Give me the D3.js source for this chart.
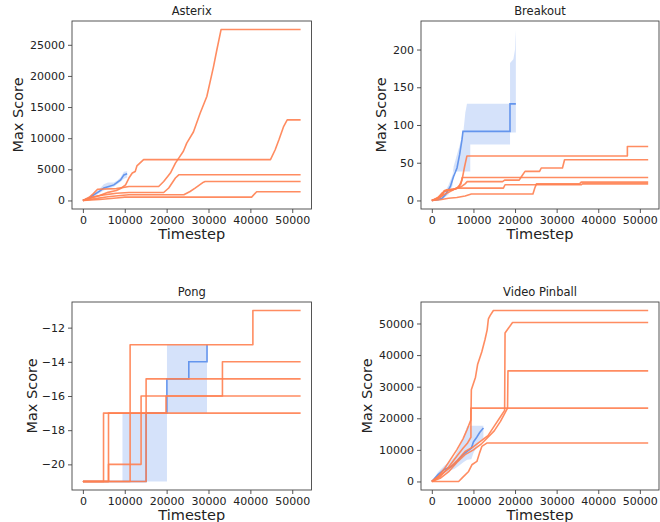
<!DOCTYPE html>
<html><head><meta charset="utf-8">
<script src="https://cdn.jsdelivr.net/npm/d3@7"></script>
<style>
body{margin:0;background:#fff;}
svg{display:block;font-family:"DejaVu Sans",sans-serif;}
</style></head>
<body><svg id="c" width="660" height="522"></svg>
<script>
// ---------------- DATA ----------------
const xTicks = [0,10000,20000,30000,40000,50000];
const xMax = 52000;

// Asterix
const asterixBlueT  = [0,1500,2600,4000,5000,6000,7400,8200,9000,9800,10570];
const asterixBlueY  = [0,400,900,1500,2000,2200,2500,2900,3300,4100,4290];
const asterixBandLo = [0,250,650,1200,1600,1900,2200,2600,3000,3500,3700];
const asterixBandHi = [0,550,1200,1900,2600,2900,2900,3200,3700,4600,4700];
const asterixRuns = [
  [[0,0],[1500,500],[2500,1100],[3500,1800],[8000,1900],[11000,2250],[18100,2250],[19300,3050],[20900,4400],[22100,6000],[22900,6800],[24000,7900],[24800,9200],[26400,11000],[28000,14000],[29600,16700],[31200,21500],[32000,24200],[33000,27450],[52000,27450]],
  [[0,0],[2000,400],[4000,800],[6000,1300],[8000,1600],[9000,1900],[10200,2500],[11000,3600],[11800,4400],[12500,4650],[12900,5550],[14500,6550],[44800,6550],[45900,8100],[46800,9700],[47900,11800],[48800,12950],[52000,12950]],
  [[0,0],[2500,600],[5000,900],[8000,1150],[11000,1280],[19300,1280],[20500,2000],[21500,3000],[22100,3600],[22900,4120],[52000,4120]],
  [[0,0],[3000,300],[6000,600],[9000,800],[11000,910],[24100,910],[25600,1440],[26800,1980],[28800,2940],[29200,3050],[52000,3050]],
  [[0,0],[4000,150],[8000,400],[10000,540],[40300,540],[41500,1400],[52000,1400]]
];
const asterixYTicks = [0,5000,10000,15000,20000,25000];

// Breakout
const breakoutBlueT = [0,1500,2500,3300,4460,5250,6050,6680,7250,7490,18790,18790,20200];
const breakoutBlueY = [0,1,3,8,18.6,32,43,60.6,80.6,91.6,91.6,128,128];
const breakoutBandT  = [0,2500,4000,5000,5250,6000,6850,7640,8040,8450,9240,9240,18800,18800,19600,20000,20100,20200];
const breakoutBandLo = [0,1,8,20,38.5,38.5,38.5,38.5,38.5,38.5,38.5,74,74,90,90,90,90,90];
const breakoutBandHi = [0,5,20,34,45,60,76,94,116,128,128,128,128,182,187,200,215,226];
const breakoutRuns = [
  [[0,0],[1500,3],[3000,8],[4500,12],[5500,15],[6500,18],[7250,27],[7880,45],[8440,59],[47000,59],[47000,71.5],[52000,71.5]],
  [[0,0],[1500,4],[2500,10],[3500,14],[5500,15],[7000,18],[8000,22],[8500,25],[17000,25],[17500,27],[21000,27],[21600,32],[22400,38.5],[25900,38.5],[26300,43],[31400,43],[31900,54],[52000,54]],
  [[0,0],[1000,2],[2000,6],[3000,12],[4500,14],[6000,16],[7000,22],[7300,30.5],[52000,30.5]],
  [[0,0],[1500,2],[2500,6],[3000,13],[5000,14],[6000,16.4],[17200,16.4],[17600,20.8],[35900,20.8],[36200,22],[52000,22]],
  [[0,0],[2000,1],[4000,3],[6000,4],[8000,6],[9500,8.5],[24300,8.5],[24750,16.4],[25150,22],[35500,22],[35900,24.3],[52000,24.3]]
];
const breakoutYTicks = [0,50,100,150,200];

// Pong (step functions)
const pongBlueT  = [0,15100,20060,25300,29650,29650];
const pongBlueY  = [-21,-17,-15,-14,-13,-13];
const pongBandT  = [0,9450,20080,29650];
const pongBandLo = [-21,-21,-17,-17];
const pongBandHi = [-21,-17,-13,-13];
const pongRuns = [
  [[0,-21],[4930,-17],[52000,-17]],
  [[0,-21],[6120,-17],[19850,-16],[52000,-16]],
  [[0,-21],[6120,-20],[13900,-16],[33330,-14],[52000,-14]],
  [[0,-21],[11280,-13],[40600,-11],[52000,-11]],
  [[0,-21],[15100,-15],[52000,-15]]
];
const pongYTicks = [-20,-18,-16,-14,-12];

// Video Pinball
const pinballBlueT  = [0,1500,3000,4500,5500,6500,7500,8500,9500,10000,10800,11500,12400];
const pinballBlueY  = [0,2200,3800,4600,5500,7000,8500,9500,10500,12500,14000,15500,16900];
const pinballBandLo = [0,1000,2500,3500,4000,5000,6000,6900,7000,9000,11000,12500,13500];
const pinballBandHi = [0,3000,5000,6500,8000,10500,13500,17500,17600,17600,17600,17600,17600];
const pinballRuns = [
  [[0,0],[1500,1500],[3000,4000],[4500,7000],[6000,10000],[7500,13500],[8500,16500],[9400,19500],[9500,29000],[10500,33000],[11000,37000],[12000,41000],[12800,45000],[13300,48000],[13600,51500],[14000,52500],[14800,54100],[52000,54100]],
  [[0,0],[2000,2000],[4000,4000],[6000,6500],[8000,9500],[10000,11000],[12000,13000],[13500,14500],[15000,17500],[16500,20500],[17500,22500],[17600,47000],[18400,48500],[19400,50300],[52000,50300]],
  [[0,0],[2000,1000],[4000,3000],[6000,6000],[8000,8500],[10000,10000],[12000,12000],[13500,14000],[15000,16000],[16500,19000],[17500,21500],[18200,23200],[18300,35000],[52000,35000]],
  [[0,0],[2000,1500],[4000,4500],[6000,8000],[7500,10500],[8500,12000],[9400,14000],[9400,23200],[52000,23200]],
  [[0,0],[6450,0],[7240,1050],[8840,3170],[9630,5280],[10830,6330],[11460,8970],[12020,11080],[13210,12150],[52000,12150]]
];
const pinballYTicks = [0,10000,20000,30000,40000,50000];

// ---------------- DRAW ----------------
const svg = d3.select("#c");
const ORANGE = "#ff7f50", BLUE = "#6495ed";

function panel(o){
  const {title,x0,x1,y0,y1,yMin,yMax,yTicks,blueT,blueY,bandT,bandLo,bandHi,runs,step} = o;
  const pad = (yMax - yMin)*0.05;
  const xs = d3.scaleLinear().domain([-xMax*0.05, xMax*1.05]).range([x0,x1]);
  const ys = d3.scaleLinear().domain([yMin-pad, yMax+pad]).range([y1,y0]);
  const g = svg.append("g");
  const curve = step ? d3.curveStepAfter : d3.curveLinear;
  const clipId = "clip"+title.replace(/\s/g,"");
  g.append("clipPath").attr("id",clipId).append("rect")
    .attr("x",x0).attr("y",y0).attr("width",x1-x0).attr("height",y1-y0);
  const plot = g.append("g").attr("clip-path",`url(#${clipId})`);

  const band = bandT.map((t,i)=>({t,lo:bandLo[i],hi:bandHi[i]}));
  plot.append("path").datum(band)
    .attr("d", d3.area().x(d=>xs(d.t)).y0(d=>ys(d.lo)).y1(d=>ys(d.hi)).curve(curve))
    .attr("fill",BLUE).attr("fill-opacity",0.27).attr("stroke","none");
  const blue = blueT.map((t,i)=>[t,blueY[i]]);
  plot.append("path").datum(blue)
    .attr("d", d3.line().x(d=>xs(d[0])).y(d=>ys(d[1])).curve(curve))
    .attr("fill","none").attr("stroke",BLUE).attr("stroke-width",1.6);
  runs.forEach(r=>{
    plot.append("path").datum(r)
      .attr("d", d3.line().x(d=>xs(d[0])).y(d=>ys(d[1])).curve(curve))
      .attr("fill","none").attr("stroke",ORANGE).attr("stroke-opacity",0.9)
      .attr("stroke-width",1.6).attr("stroke-linejoin","round");
  });

  // frame
  g.append("rect").attr("x",x0).attr("y",y0).attr("width",x1-x0).attr("height",y1-y0)
    .attr("fill","none").attr("stroke","#444").attr("stroke-width",0.9);

  const xa = g.append("g").attr("transform",`translate(0,${y1})`)
    .call(d3.axisBottom(xs).tickValues(xTicks).tickSize(4).tickPadding(3).tickFormat(d3.format("d")));
  const ya = g.append("g").attr("transform",`translate(${x0},0)`)
    .call(d3.axisLeft(ys).tickValues(yTicks).tickSize(4).tickPadding(3).tickFormat(d=>d<0?"\u2212"+Math.abs(d):d3.format("d")(d)));
  [xa,ya].forEach(a=>{
    a.select(".domain").remove();
    a.selectAll("line").attr("stroke","#444").attr("stroke-width",0.9);
    a.selectAll("text").attr("fill","#222").style("font-size","11px").style("font-family","DejaVu Sans");
  });

  g.append("text").attr("x",(x0+x1)/2).attr("y",y0-6).attr("text-anchor","middle")
    .style("font-size","11.5px").attr("fill","#222").text(title);
  g.append("text").attr("x",(x0+x1)/2).attr("y",y1+30).attr("text-anchor","middle")
    .style("font-size","14.5px").attr("fill","#222").text("Timestep");
  g.append("text").attr("transform",`translate(${o.ylabX},${(y0+y1)/2}) rotate(-90)`)
    .attr("text-anchor","middle").attr("dy","0.35em")
    .style("font-size","14.5px").attr("fill","#222").text("Max Score");
}

panel({title:"Asterix",x0:72,x1:311.5,y0:21,y1:209,yMin:0,yMax:27450,yTicks:asterixYTicks,
  blueT:asterixBlueT,blueY:asterixBlueY,bandT:asterixBlueT,bandLo:asterixBandLo,bandHi:asterixBandHi,
  runs:asterixRuns,step:false,ylabX:18});
panel({title:"Breakout",x0:421,x1:659,y0:21,y1:209,yMin:0,yMax:226.5,yTicks:breakoutYTicks,
  blueT:breakoutBlueT,blueY:breakoutBlueY,bandT:breakoutBandT,bandLo:breakoutBandLo,bandHi:breakoutBandHi,
  runs:breakoutRuns,step:false,ylabX:381});
panel({title:"Pong",x0:72,x1:311.5,y0:302,y1:490,yMin:-21,yMax:-11,yTicks:pongYTicks,
  blueT:pongBlueT,blueY:pongBlueY,bandT:pongBandT,bandLo:pongBandLo,bandHi:pongBandHi,
  runs:pongRuns,step:true,ylabX:32});
panel({title:"Video Pinball",x0:421,x1:659,y0:302,y1:490,yMin:0,yMax:54100,yTicks:pinballYTicks,
  blueT:pinballBlueT,blueY:pinballBlueY,bandT:pinballBlueT,bandLo:pinballBandLo,bandHi:pinballBandHi,
  runs:pinballRuns,step:false,ylabX:367});
</script></body></html>
